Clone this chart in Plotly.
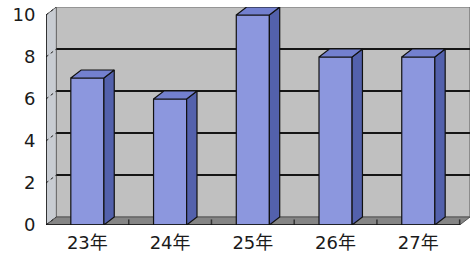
import plotly.graph_objects as go

categories = ["23年", "24年", "25年", "26年", "27年"]
values = [7, 6, 10, 8, 8]
y_ticks = [0, 2, 4, 6, 8, 10]

# 3D depth offsets in data units
DX = 0.125
DY = 0.38
HW = 0.2  # half width of bar front face

FRONT = "#8C97DE"
SIDE = "#5361AC"
TOP = "#7380CF"
WALL = "#C0C0C0"
FLOOR = "#858585"
GRID = "#151515"

n = len(categories)
x0, x1 = -0.5, n - 0.5
ymax = max(y_ticks)

fig = go.Figure()

shapes = []
# back wall
shapes.append(dict(type="path", layer="below",
                   path=f"M {x0+DX},{DY} L {x1+DX},{DY} L {x1+DX},{ymax+DY} L {x0+DX},{ymax+DY} Z",
                   fillcolor=WALL, line=dict(color="#6A6A6A", width=1.2)))
# left side wall
shapes.append(dict(type="path", layer="below",
                   path=f"M {x0},0 L {x0+DX},{DY} L {x0+DX},{ymax+DY} L {x0},{ymax} Z",
                   fillcolor="#C8CCD2", line=dict(color="#6A6A6A", width=1)))
# floor
shapes.append(dict(type="path", layer="below",
                   path=f"M {x0},0 L {x1},0 L {x1+DX},{DY} L {x0+DX},{DY} Z",
                   fillcolor=FLOOR, line=dict(color="#555555", width=1)))
# gridlines on back wall and diagonals on left wall
for t in y_ticks:
    if 0 < t < ymax:
        shapes.append(dict(type="line", layer="below", x0=x0+DX, x1=x1+DX, y0=t+DY, y1=t+DY,
                           line=dict(color=GRID, width=2)))
    shapes.append(dict(type="line", layer="below", x0=x0, x1=x0+DX, y0=t, y1=t+DY,
                       line=dict(color="#222222", width=1, dash="dot")))
# small floor ticks between categories
for i in range(1, n + 1):
    b = i - 0.5
    shapes.append(dict(type="line", layer="below", x0=b, x1=b, y0=0, y1=DY*0.7,
                       line=dict(color="#333333", width=1.5)))
# front y-axis line and floor front edge
shapes.append(dict(type="line", x0=x0, x1=x0, y0=0, y1=ymax, line=dict(color="#111111", width=1.5)))
shapes.append(dict(type="line", x0=x0, x1=x1, y0=0, y1=0, line=dict(color="#111111", width=1.5)))

# front faces
fig.add_trace(go.Bar(x=list(range(n)), y=values, width=2*HW,
                     marker=dict(color=FRONT, line=dict(color="#111111", width=1.2)),
                     hoverinfo="skip"))

# side faces
sx, sy = [], []
for i, v in enumerate(values):
    sx += [i+HW, i+HW+DX, i+HW+DX, i+HW, i+HW, None]
    sy += [0, DY, v+DY, v, 0, None]
fig.add_trace(go.Scatter(x=sx, y=sy, mode="lines", fill="toself", fillcolor=SIDE,
                         line=dict(color="#111111", width=1.2), hoverinfo="skip"))
# top faces
tx, ty = [], []
for i, v in enumerate(values):
    tx += [i-HW, i+HW, i+HW+DX, i-HW+DX, i-HW, None]
    ty += [v, v, v+DY, v+DY, v, None]
fig.add_trace(go.Scatter(x=tx, y=ty, mode="lines", fill="toself", fillcolor=TOP,
                         line=dict(color="#111111", width=1.2), hoverinfo="skip"))

font = dict(family="DejaVu Sans, Noto Sans CJK JP", size=18, color="#1A1A1A")
fig.update_layout(
    width=474, height=256,
    margin=dict(l=46, r=4, t=7, b=31),
    paper_bgcolor="white", plot_bgcolor="white",
    showlegend=False,
    shapes=shapes,
    xaxis=dict(range=[x0, x1+DX], tickvals=list(range(n)), ticktext=categories,
               showgrid=False, zeroline=False, showline=False, automargin=False,
               ticks="outside", ticklen=1, tickcolor="rgba(0,0,0,0)", tickfont=font,
               fixedrange=True),
    yaxis=dict(range=[0, ymax+DY], tickvals=y_ticks, showgrid=False, zeroline=False,
               showline=False, automargin=False, ticks="outside", ticklen=6,
               tickcolor="rgba(0,0,0,0)", tickfont=font, fixedrange=True),
)

fig.write_html("out.html", config={"displayModeBar": False},
               post_script="document.body.style.margin='0';document.body.style.overflow='hidden';")
